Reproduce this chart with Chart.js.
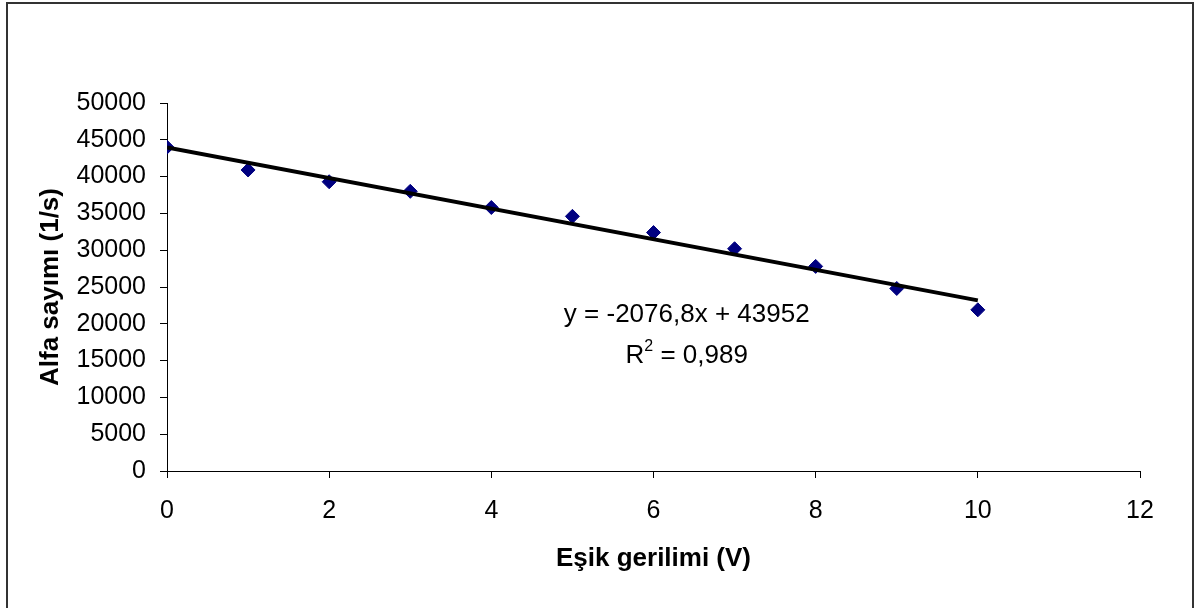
<!DOCTYPE html>
<html lang="tr">
<head>
    <meta charset="UTF-8">
    <title>Alfa sayımı - Eşik gerilimi</title>
    <script src="https://cdn.jsdelivr.net/npm/chart.js"></script>
    <style>
        html, body {
            margin: 0;
            padding: 0;
            background: #ffffff;
            overflow: hidden;
        }
        canvas { display: block; }
    </style>
</head>
<body>
    <canvas id="alphaChart" width="1201" height="608"></canvas>

    <script>
        // measured values (threshold voltage vs alpha count)
        const voltages = [0, 1, 2, 3, 4, 5, 6, 7, 8, 9, 10];
        const counts = [44000, 40900, 39300, 38000, 35800, 34600, 32400, 30200, 27800, 24800, 21900];

        // trend line end points, from the fitted equation in the chart
        const trendX = [0, 10];
        const trendY = [43952, 23184];

        const equationText = 'y = -2076,8x + 43952';
        const r2Value = ' = 0,989';

        const FONT = "'Liberation Sans', Arial, sans-serif";

        // outer frame + equation label
        const extrasPlugin = {
            id: 'extras',
            afterDraw(chart) {
                const ctx = chart.ctx;
                const xs = chart.scales.x;
                const ys = chart.scales.y;
                ctx.save();

                ctx.strokeStyle = '#333333';
                ctx.lineWidth = 2;
                ctx.strokeRect(7, 3, 1186, 620);

                const cx = xs.getPixelForValue(6.41);
                ctx.fillStyle = '#000';
                ctx.font = '26px ' + FONT;
                ctx.textAlign = 'center';
                ctx.textBaseline = 'middle';
                ctx.fillText(equationText, cx, ys.getPixelForValue(21200));

                // R² with a raised 2
                const y2 = ys.getPixelForValue(15600);
                const wR = ctx.measureText('R').width;
                ctx.font = '16px ' + FONT;
                const w2 = ctx.measureText('2').width;
                ctx.font = '26px ' + FONT;
                const wRest = ctx.measureText(r2Value).width;
                let left = cx - (wR + w2 + wRest) / 2;
                ctx.textAlign = 'left';
                ctx.fillText('R', left, y2);
                ctx.font = '16px ' + FONT;
                ctx.fillText('2', left + wR, y2 - 10);
                ctx.font = '26px ' + FONT;
                ctx.fillText(r2Value, left + wR + w2, y2);

                ctx.restore();
            }
        };

        new Chart(document.getElementById('alphaChart'), {
            type: 'scatter',
            data: {
                datasets: [
                    {
                        type: 'line',
                        label: 'trend',
                        data: trendX.map((x, i) => ({ x: x, y: trendY[i] })),
                        borderColor: '#000000',
                        borderWidth: 4,
                        pointRadius: 0,
                        fill: false
                    },
                    {
                        label: 'Alfa sayımı',
                        data: voltages.map((v, i) => ({ x: v, y: counts[i] })),
                        backgroundColor: '#000080',
                        borderColor: '#000080',
                        pointStyle: 'rectRot',
                        pointRadius: 7,
                        pointHoverRadius: 7
                    }
                ]
            },
            options: {
                responsive: false,
                animation: false,
                devicePixelRatio: 1,
                layout: { padding: { top: 103, right: 61, bottom: 0, left: 0 } },
                plugins: {
                    legend: { display: false },
                    tooltip: { enabled: false }
                },
                scales: {
                    x: {
                        type: 'linear',
                        min: 0,
                        max: 12,
                        ticks: {
                            stepSize: 2,
                            color: '#000',
                            padding: 18,
                            font: { family: FONT, size: 25 }
                        },
                        grid: { drawOnChartArea: false, drawTicks: true, tickLength: 7, color: '#000' },
                        border: { display: true, color: '#000', width: 1 },
                        title: {
                            display: true,
                            text: 'Eşik gerilimi (V)',
                            color: '#000',
                            font: { family: FONT, size: 26, weight: 'bold' },
                            padding: { top: 0, bottom: 34 }
                        },
                        afterFit(scale) { scale.height = 137; }
                    },
                    y: {
                        type: 'linear',
                        min: 0,
                        max: 50000,
                        ticks: {
                            stepSize: 5000,
                            color: '#000',
                            padding: 14,
                            font: { family: FONT, size: 25 },
                            callback: value => String(value)
                        },
                        grid: { drawOnChartArea: false, drawTicks: true, tickLength: 7, color: '#000' },
                        border: { display: true, color: '#000', width: 1 },
                        title: {
                            display: true,
                            text: 'Alfa sayımı (1/s)',
                            color: '#000',
                            font: { family: FONT, size: 26, weight: 'bold' },
                            padding: { top: 35, bottom: 0 }
                        },
                        afterFit(scale) { scale.width = 167; }
                    }
                }
            },
            plugins: [extrasPlugin]
        });
    </script>
</body>
</html>
